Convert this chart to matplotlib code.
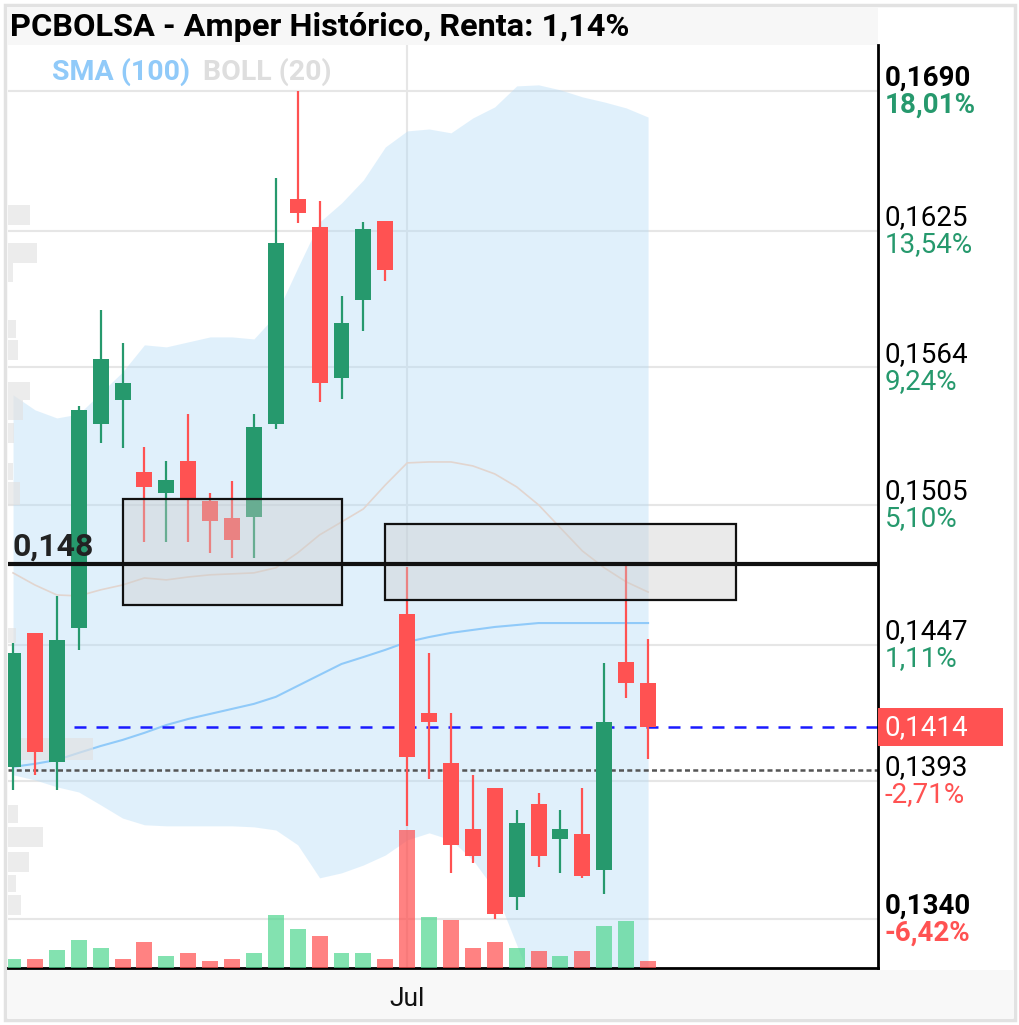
import numpy as np
import matplotlib.pyplot as plt
from matplotlib.patches import Rectangle
from matplotlib.transforms import blended_transform_factory, ScaledTranslation, Affine2D

plt.rcParams['font.family'] = ['Roboto', 'DejaVu Sans']

titulo = 'PCBOLSA - Amper Histórico, Renta: 1,14%'

# velas diarias (30 sesiones)
apertura = [0.13984, 0.14519, 0.14003, 0.14539, 0.15394, 0.15498, 0.15188, 0.15099, 0.15235, 0.15066,
            0.14994, 0.14998, 0.15394, 0.16396, 0.16267, 0.15594, 0.15938, 0.16295, 0.14596, 0.14197,
            0.13999, 0.13743, 0.13902, 0.13484, 0.13840, 0.13705, 0.13724, 0.13586, 0.14401, 0.14317]
maximo = [0.14478, 0.14519, 0.14670, 0.15472, 0.15894, 0.15747, 0.15295, 0.15235, 0.15437, 0.15099,
          0.15150, 0.15437, 0.16492, 0.16900, 0.16386, 0.15956, 0.16290, 0.16295, 0.14790, 0.14438,
          0.14197, 0.13953, 0.13902, 0.13816, 0.13882, 0.13816, 0.13902, 0.14397, 0.14800, 0.14494]
minimo = [0.13894, 0.13953, 0.13894, 0.14450, 0.15312, 0.15291, 0.14894, 0.14894, 0.14894, 0.14848,
          0.14827, 0.14827, 0.15373, 0.16286, 0.15489, 0.15502, 0.15800, 0.16023, 0.13755, 0.13937,
          0.13575, 0.13613, 0.13400, 0.13435, 0.13598, 0.13575, 0.13556, 0.13495, 0.14257, 0.14015]
cierre = [0.14438, 0.14043, 0.14490, 0.15455, 0.15677, 0.15572, 0.15125, 0.15154, 0.15070, 0.14981,
          0.14902, 0.15381, 0.16195, 0.16331, 0.15572, 0.15836, 0.16258, 0.16073, 0.14023, 0.14161,
          0.13682, 0.13640, 0.13420, 0.13766, 0.13640, 0.13743, 0.13563, 0.14161, 0.14317, 0.14140]

volumen = [9, 9, 18, 28, 20, 9, 26, 12, 15, 7, 9, 15, 53, 39, 32, 15, 15, 9, 139, 51,
           48, 20, 26, 20, 17, 12, 17, 42, 47, 7]
vol_color = ['g', 'r', 'g', 'g', 'g', 'r', 'r', 'g', 'r', 'r', 'r', 'g', 'g', 'g', 'r', 'g', 'g', 'r', 'r', 'g',
             'r', 'r', 'r', 'g', 'r', 'g', 'r', 'g', 'g', 'r']

# bandas de bollinger (20) y media simple (100)
boll_sup = [0.15520, 0.15455, 0.15420, 0.15437, 0.15528, 0.15620, 0.15739, 0.15730, 0.15752, 0.15774,
            0.15774, 0.15765, 0.15871, 0.16082, 0.16290, 0.16377, 0.16483, 0.16636, 0.16711, 0.16720,
            0.16702, 0.16772, 0.16824, 0.16923, 0.16928, 0.16904, 0.16871, 0.16847, 0.16819, 0.16776]
boll_med = [0.14765, 0.14715, 0.14674, 0.14670, 0.14695, 0.14715, 0.14744, 0.14736, 0.14748, 0.14757,
            0.14761, 0.14765, 0.14786, 0.14848, 0.14923, 0.14977, 0.15032, 0.15133, 0.15227, 0.15231,
            0.15231, 0.15214, 0.15180, 0.15125, 0.15049, 0.14952, 0.14856, 0.14786, 0.14728, 0.14686]
boll_inf = [0.13953, 0.13933, 0.13906, 0.13886, 0.13836, 0.13785, 0.13759, 0.13755, 0.13755, 0.13755,
            0.13755, 0.13751, 0.13739, 0.13682, 0.13556, 0.13575, 0.13605, 0.13643, 0.13701, 0.13728,
            0.13701, 0.13624, 0.13510, 0.13304, 0.13100, 0.13064, 0.13064, 0.13082, 0.13100, 0.13118]
sma100 = [0.13984, 0.13996, 0.14011, 0.14039, 0.14066, 0.14090, 0.14118, 0.14149, 0.14173, 0.14193,
          0.14213, 0.14233, 0.14261, 0.14305, 0.14349, 0.14393, 0.14421, 0.14450, 0.14482, 0.14502,
          0.14519, 0.14531, 0.14543, 0.14551, 0.14559, 0.14559, 0.14559, 0.14559, 0.14559, 0.14559]

# perfil de volumen por precio
perfil_lo = [0.16277, 0.16104, 0.16019, 0.15770, 0.15673, 0.15498, 0.15411, 0.15312, 0.15154,
             0.15049, 0.14478, 0.14011, 0.13766, 0.13674, 0.13579, 0.13503, 0.13416]
perfil_hi = [0.16368, 0.16195, 0.16104, 0.15849, 0.15761, 0.15576, 0.15498, 0.15398, 0.15227,
             0.15146, 0.14539, 0.14098, 0.13836, 0.13751, 0.13655, 0.13568, 0.13491]
perfil_vol = [22, 29, 5, 8, 10, 22, 15, 6, 5, 12, 8, 85, 10, 35, 21, 8, 13]

# eje derecho
niveles = [0.1690, 0.1625, 0.1564, 0.1505, 0.1447, 0.1393, 0.1340]
niveles_txt = ['0,1690', '0,1625', '0,1564', '0,1505', '0,1447', '0,1393', '0,1340']
pct_txt = ['18,01%', '13,54%', '9,24%', '5,10%', '1,11%', '-2,71%', '-6,42%']
negrita = [True, False, False, False, False, False, True]

ultimo = 0.1414
ultimo_txt = '0,1414'
soporte = 0.148
soporte_txt = '0,148'
referencia = 0.1397

# zonas marcadas
zona_x0 = [5, 17]
zona_x1 = [15, 33]
zona_lo = [0.14633, 0.14654]
zona_hi = [0.15074, 0.14969]

mes_idx = 18
mes_txt = 'Jul'

VERDE = '#26996d'
ROJO = '#ff5252'

W, H = 1020, 1025
fig = plt.figure(figsize=(W / 100, H / 100), dpi=100)
fig.patch.set_facecolor('white')

# marco, barra de titulo y barra inferior (por debajo de los ejes)
fig.patches.append(Rectangle((5 / W, 1 - 1020 / H), 1010 / W, 1015 / H, transform=fig.transFigure,
                             fc='white', ec='#e2e2e2', lw=2.5, zorder=-3))
fig.patches.append(Rectangle((7 / W, 1 - 45 / H), 871 / W, 38 / H, transform=fig.transFigure,
                             fc='#f7f7f7', ec='none', zorder=-2))
fig.patches.append(Rectangle((7 / W, 1 - 1018 / H), 1007 / W, 48 / H, transform=fig.transFigure,
                             fc='#f8f8f8', ec='none', zorder=-2))

ax = fig.add_axes([8 / W, 1 - 968 / H, 870 / W, 923 / H])
ax.set_yscale('log')
ax.set_xlim(-0.23, 39.5)
ax.set_ylim(0.13218, 0.17118)
ax.set_facecolor('white')

x = np.arange(len(cierre))
xmin = ax.get_xlim()[0]

# rejilla
for p in niveles:
    ax.axhline(p, color='#e6e6e6', lw=1.5, zorder=0.5)
ax.axvline(mes_idx, color='#e6e6e6', lw=1.5, zorder=0.5)

# bollinger y sma
ax.fill_between(x, boll_inf, boll_sup, color='#b3dbf7', alpha=0.4, lw=0, zorder=1)
ax.plot(x, boll_med, color='#e2d5cf', lw=1.2, zorder=1.2)
ax.plot(x, sma100, color='#90caf9', lw=1.5, zorder=1.3)

# perfil de volumen
ancho = np.array(perfil_vol) / max(perfil_vol) * 3.9
alto = np.array(perfil_hi) - np.array(perfil_lo)
ax.barh(perfil_lo, ancho, height=alto, left=xmin, align='edge', color='#e2e2e2', alpha=0.65, lw=0, zorder=1.4)

# lineas horizontales
ax.axhline(ultimo, color='#1a1aff', lw=1.8, ls=(0, (4.8, 4)), zorder=1.5)
ax.axhline(referencia, color='#555555', lw=1.8, ls=(0, (2, 1.3)), zorder=1.5)

# velas
o = np.array(apertura)
c = np.array(cierre)
colores = [VERDE if c[i] >= o[i] else ROJO for i in range(len(c))]
ax.vlines(x, minimo, maximo, colors=colores, lw=1.6, zorder=2.4)
ax.bar(x, np.abs(c - o), bottom=np.minimum(o, c), width=0.73, color=colores, lw=0, zorder=2.5)

# zonas
for x0, x1, lo, hi in zip(zona_x0, zona_x1, zona_lo, zona_hi):
    ax.add_patch(Rectangle((x0, lo), x1 - x0, hi - lo, fc=(0.8, 0.8, 0.8, 0.4), ec='#111111',
                           lw=1.6, zorder=3))

ax.axhline(soporte, color='#111111', lw=3, zorder=4)
trans = blended_transform_factory(ax.transAxes, ax.transData)
ax.annotate(soporte_txt, xy=(0, soporte), xycoords=trans, xytext=(4, 3), textcoords='offset pixels',
            va='bottom', ha='left', fontsize=23, fontweight='bold', color='#222222', zorder=5)

# ejes
for lado in ['left', 'top']:
    ax.spines[lado].set_visible(False)
for lado in ['right', 'bottom']:
    ax.spines[lado].set_linewidth(2)
    ax.spines[lado].set_color('black')
ax.yaxis.set_major_locator(plt.NullLocator())
ax.yaxis.set_minor_locator(plt.NullLocator())
ax.set_xticks([mes_idx])
ax.set_xticklabels([mes_txt])
ax.tick_params(axis='x', length=0, pad=14, labelsize=19, labelcolor='#111111')

# etiquetas del eje derecho
for p, t1, t2, b in zip(niveles, niveles_txt, pct_txt, negrita):
    peso = 'bold' if b else 'normal'
    col = ROJO if t2.startswith('-') else VERDE
    ax.annotate(t1, xy=(1, p), xycoords=trans, xytext=(7, 13), textcoords='offset pixels',
                va='center', ha='left', fontsize=20, fontweight=peso, color='black', annotation_clip=False)
    ax.annotate(t2, xy=(1, p), xycoords=trans, xytext=(7, -14), textcoords='offset pixels',
                va='center', ha='left', fontsize=20, fontweight=peso, color=col, annotation_clip=False)

caja = Rectangle((0, -19), 125, 38, transform=Affine2D() + ScaledTranslation(1, ultimo, trans),
                 fc=ROJO, ec='none', clip_on=False, zorder=6)
ax.add_patch(caja)
ax.annotate(ultimo_txt, xy=(1, ultimo), xycoords=trans, xytext=(7, 0), textcoords='offset pixels',
            va='center', ha='left', fontsize=20, color='white', annotation_clip=False, zorder=7)

# volumen
ax2 = ax.twinx()
ax2.set_ylim(0, max(volumen) / 0.15)
vcol = ['#4fd68f' if v == 'g' else '#ff4d4d' for v in vol_color]
ax2.bar(x, volumen, width=0.73, color=vcol, alpha=0.7, lw=0)
ax2.set_xlim(ax.get_xlim())
ax2.axis('off')

# textos de cabecera
fig.text(10 / W, 1 - 27 / H, titulo, fontsize=23.4, fontweight='bold', color='black', va='center', ha='left')
fig.text(52 / W, 1 - 72 / H, 'SMA (100)', fontsize=20.5, fontweight='bold', color='#90caf9', va='center', ha='left')
fig.text(203 / W, 1 - 72 / H, 'BOLL (20)', fontsize=20.5, fontweight='bold', color='#dedede', va='center', ha='left')

fig.savefig('out.png', dpi=100)
